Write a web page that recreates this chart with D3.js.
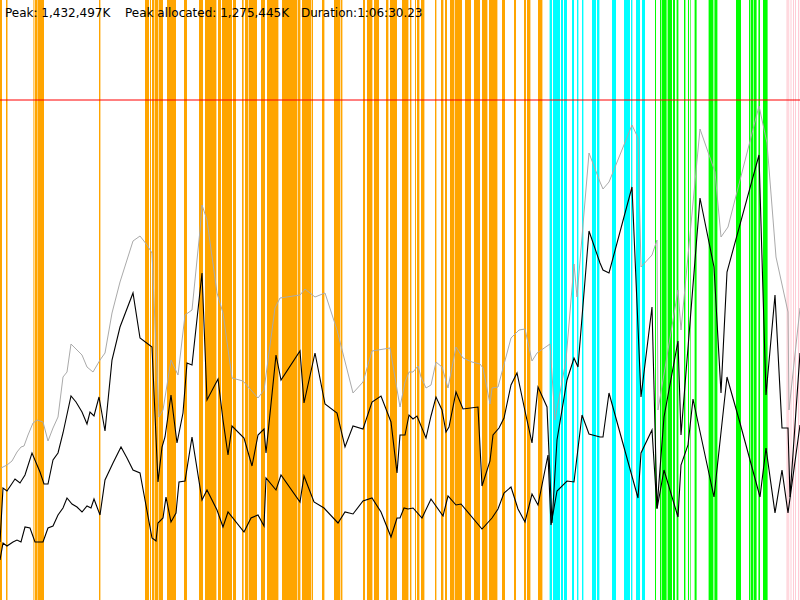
<!DOCTYPE html>
<html><head><meta charset="utf-8">
<script src="https://cdn.jsdelivr.net/npm/d3@7"></script>
<style>body{margin:0;background:#fff;overflow:hidden}svg{display:block}</style>
</head><body><svg id="chart" width="800" height="600"></svg>
<script>
// ---- data (time in seconds, memory in MB) ----
const headerLabels = ["Peak: 1,432,497K", "Peak allocated: 1,275,445K", "Duration:1:06:30.23"];
const limitMB = 1500;

const orangeSpans = [[0,10],[30,37.5],[165,168],[173,188],[190,220],[495,502],[725,745],[750,755],[760,772],[775,792],[795,815],[835,880],[920,935],[995,1015],[1025,1082],[1090,1105],[1110,1160],[1165,1180],[1210,1218],[1225,1242],[1245,1285],[1305,1325],[1335,1392],[1410,1485],[1488,1502],[1510,1557],[1560,1565],[1610,1622],[1670,1702],[1705,1712],[1815,1825],[1835,1862],[1870,1895],[1930,1942],[1950,1985],[2010,2042],[2050,2057],[2075,2080],[2085,2097],[2105,2122],[2175,2182],[2205,2217],[2225,2235],[2250,2272],[2275,2310],[2325,2355],[2370,2400],[2410,2437],[2445,2487],[2510,2525],[2570,2580],[2620,2630],[2635,2652],[2690,2712]];
const cyanSpans = [[2748,2760],[2765,2800],[2805,2815],[2820,2835],[2860,2870],[2885,2892],[2910,2917],[2960,2980],[2985,2997],[3060,3080],[3120,3150],[3155,3162],[3180,3200],[3210,3225]];
const greenSpans = [[3275,3280],[3300,3305],[3308,3333],[3338,3360],[3365,3375],[3383,3392],[3420,3427],[3440,3445],[3450,3453],[3473,3483],[3543,3567],[3572,3587],[3680,3705],[3745,3750],[3753,3767],[3770,3783],[3792,3800],[3815,3838]];
const pinkSpans = [[3933,3938],[3942,3946],[3953,3957],[3966,3970],[3975,3979],[3991,3996]];

const totalSeries = [[5,396],[35,405],[60,417],[85,444],[105,459],[120,462],[140,495],[165,531],[185,540],[215,534],[240,477],[265,516],[290,549],[315,669],[335,684],[355,768],[410,735],[435,699],[465,684],[500,720],[525,741],[560,861],[600,954],[665,1077],[700,1092],[735,1065],[760,1041],[795,549],[815,570],[855,720],[890,675],[925,855],[960,870],[1000,1110],[1010,1185],[1035,1140],[1085,921],[1115,861],[1160,666],[1215,657],[1290,606],[1320,630],[1375,876],[1400,906],[1500,915],[1525,933],[1575,909],[1625,921],[1685,810],[1765,621],[1815,654],[1860,747],[1950,756],[2000,579],[2025,654],[2045,684],[2065,684],[2090,702],[2105,669],[2130,636],[2155,645],[2180,714],[2210,699],[2240,636],[2280,759],[2315,726],[2360,714],[2400,708],[2415,696],[2450,588],[2460,636],[2490,639],[2555,786],[2595,810],[2625,813],[2660,717],[2685,741],[2750,768],[2775,540],[2830,720],[2870,1008],[2885,909],[2945,1341],[3000,1254],[3015,1233],[3045,1254],[3160,1425],[3190,1386],[3205,999],[3260,1035],[3285,1080],[3290,570],[3390,930],[3405,810],[3500,1413],[3575,1284],[3605,1089],[3640,1119],[3795,1482],[3835,1371],[3880,1029],[3940,864],[3945,570],[4000,876]];

const allocatedSeries = [[0,174],[15,336],[35,327],[75,363],[100,351],[125,375],[160,441],[200,384],[220,348],[240,348],[265,420],[290,441],[315,501],[355,612],[380,594],[410,564],[435,528],[450,564],[470,552],[495,609],[525,507],[560,720],[600,819],[665,921],[700,786],[760,759],[790,354],[810,459],[825,489],[855,615],[885,471],[915,561],[935,711],[960,705],[1010,981],[1035,600],[1090,663],[1115,540],[1140,435],[1160,522],[1220,486],[1260,402],[1290,495],[1320,513],[1330,441],[1380,735],[1405,660],[1500,747],[1520,591],[1575,741],[1625,588],[1685,561],[1725,459],[1765,522],[1815,513],[1860,594],[1905,612],[1955,534],[1985,381],[2000,495],[2025,495],[2045,555],[2065,543],[2085,552],[2130,486],[2155,552],[2180,609],[2210,570],[2230,504],[2245,519],[2280,624],[2315,573],[2390,579],[2410,342],[2450,417],[2465,495],[2495,516],[2520,546],[2555,645],[2585,681],[2625,567],[2660,471],[2690,639],[2735,579],[2760,231],[2785,480],[2835,660],[2870,726],[2890,699],[2945,1107],[3000,1011],[3015,990],[3045,981],[3160,1239],[3205,609],[3260,879],[3285,276],[3320,549],[3390,777],[3405,495],[3500,1206],[3570,999],[3605,621],[3635,984],[3795,1335],[3830,615],[3875,915],[3910,516],[3940,516],[3950,309],[4000,741]];

const liveSeries = [[0,120],[15,171],[35,162],[65,174],[85,180],[105,174],[125,219],[150,216],[175,174],[215,174],[240,216],[265,222],[290,255],[315,276],[335,306],[360,288],[385,279],[410,264],[435,282],[455,276],[470,303],[500,255],[525,360],[565,411],[605,459],[635,426],[665,390],[700,381],[725,300],[760,186],[780,177],[790,231],[815,246],[830,309],[855,234],[880,261],[895,354],[925,357],[960,489],[1010,300],[1035,330],[1085,270],[1115,219],[1140,264],[1220,204],[1255,246],[1290,255],[1320,222],[1330,366],[1380,330],[1405,375],[1500,294],[1520,372],[1570,294],[1620,276],[1690,231],[1725,264],[1765,258],[1815,297],[1860,306],[1905,264],[1955,189],[1985,246],[2000,246],[2020,276],[2040,273],[2065,276],[2110,246],[2155,303],[2215,252],[2240,312],[2280,285],[2305,288],[2410,213],[2460,246],[2490,273],[2520,321],[2555,339],[2590,273],[2625,234],[2660,318],[2690,285],[2740,435],[2755,225],[2785,327],[2835,357],[2870,354],[2910,555],[2945,498],[3000,489],[3015,489],[3045,621],[3190,306],[3205,441],[3260,510],[3285,273],[3320,390],[3390,249],[3405,405],[3440,465],[3465,603],[3570,309],[3635,669],[3700,531],[3800,309],[3830,456],[3875,261],[3910,390],[3940,261],[4000,525]];

// ---- drawing ----
const W = 800, H = 600;
const svg = d3.select("#chart");
const x = d3.scaleLinear().domain([0, 4000]).range([0, W]);
const y = d3.scaleLinear().domain([0, 1800]).range([H, 0]);

const bandGroups = [
  {spans: orangeSpans, color: "#ffa500"},
  {spans: cyanSpans, color: "#00ffff"},
  {spans: greenSpans, color: "#00ff00"},
  {spans: pinkSpans, color: "#ffc0cb"}
];
bandGroups.forEach(g => {
  svg.append("g").selectAll("rect").data(g.spans).join("rect")
    .attr("x", d => x(d[0]))
    .attr("width", d => x(d[1]) - x(d[0]))
    .attr("y", 0).attr("height", H)
    .attr("fill", g.color);
});

const line = d3.line().x(d => x(d[0])).y(d => y(d[1]));
svg.append("path").datum(totalSeries).attr("d", line)
  .attr("fill", "none").attr("stroke", "#aaaaaa").attr("stroke-width", 1);
svg.append("path").datum(allocatedSeries).attr("d", line)
  .attr("fill", "none").attr("stroke", "#000").attr("stroke-width", 1.1);
svg.append("path").datum(liveSeries).attr("d", line)
  .attr("fill", "none").attr("stroke", "#000").attr("stroke-width", 1.1);

svg.append("line")
  .attr("x1", 0).attr("x2", W)
  .attr("y1", y(limitMB)).attr("y2", y(limitMB))
  .attr("stroke", "#ff0000").attr("stroke-width", 1);

const headerX = [5, 125, 301];
svg.append("g").selectAll("text").data(headerLabels).join("text")
  .attr("x", (d, i) => headerX[i]).attr("y", 17)
  .attr("font-family", "DejaVu Sans, sans-serif").attr("font-size", 12)
  .attr("fill", "#000").text(d => d);
</script></body></html>
